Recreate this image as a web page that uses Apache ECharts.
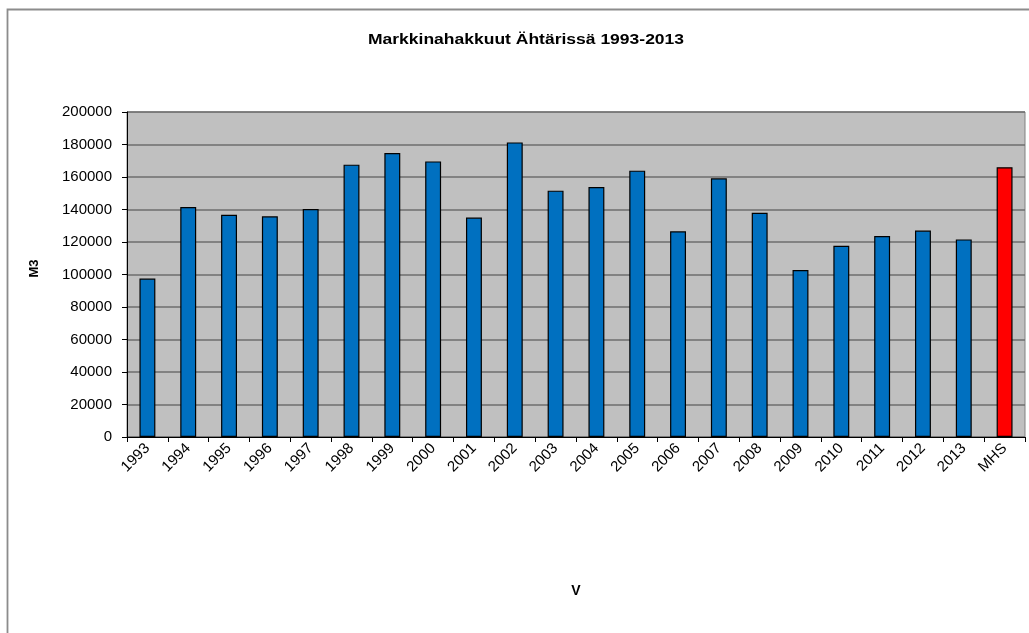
<!DOCTYPE html>
<html>
<head>
<meta charset="utf-8">
<script src="https://cdn.jsdelivr.net/npm/echarts@6/dist/echarts.min.js"></script>
<style>html,body{margin:0;padding:0;background:#fff;}#c{width:1029px;height:633px;}</style>
</head>
<body>
<div id="c"></div>
<script>
var categories = ['1993','1994','1995','1996','1997','1998','1999','2000','2001','2002','2003','2004','2005','2006','2007','2008','2009','2010','2011','2012','2013','MHS'];
var values = [97500,141500,136800,135800,140300,167600,174800,169600,135000,181300,151600,153800,163900,126600,159200,138000,102800,117700,123700,127000,121600,166000];
var highlight = 'MHS';
var titleText = 'Markkinahakkuut Ähtärissä 1993-2013';
var yTicks = {min: 0, max: 200000, interval: 20000};

var chart = echarts.init(document.getElementById('c'), null, {renderer: 'canvas'});
var font = 'Liberation Sans, Arial, sans-serif';
chart.setOption({
  animation: false,
  backgroundColor: '#ffffff',
  graphic: [{
    type: 'rect', left: 5, top: 7, silent: true, z: -10,
    shape: {width: 1040, height: 640},
    style: {fill: 'none', stroke: '#8c8c8c', lineWidth: 1.8}
  }, {
    type: 'text', x: 526, y: 40, scaleX: 1.25, silent: true,
    style: {text: titleText, font: 'bold 14px "Liberation Sans", Arial, sans-serif', fill: '#000', textAlign: 'center', textVerticalAlign: 'middle'}
  }],
  grid: {left: 127, right: 4, top: 112, bottom: 196, backgroundColor: '#c0c0c0', show: true, borderColor: '#808080', borderWidth: 1},
  xAxis: {
    type: 'category', data: categories,
    name: 'V', nameLocation: 'middle', nameGap: 147,
    nameTextStyle: {fontFamily: font, fontSize: 14, fontWeight: 'bold', color: '#000'},
    axisLine: {lineStyle: {color: '#000', width: 1}},
    axisTick: {show: true, inside: false, length: 5, lineStyle: {color: '#000'}},
    axisLabel: {rotate: 45, fontFamily: font, fontSize: 15, color: '#000', margin: 9, interval: 0},
    splitLine: {show: false}
  },
  yAxis: {
    type: 'value', min: yTicks.min, max: yTicks.max, interval: yTicks.interval,
    name: 'M3', nameLocation: 'middle', nameGap: 86, nameRotate: 90,
    nameTextStyle: {fontFamily: font, fontSize: 13, fontWeight: 'bold', color: '#000', padding: [0, 0, 0, 12]},
    axisLine: {show: true, lineStyle: {color: '#000', width: 1}},
    axisTick: {show: true, length: 5, lineStyle: {color: '#000'}},
    axisLabel: {fontFamily: font, fontSize: 15, color: '#000', margin: 15, formatter: function (v) { return String(v); }},
    splitLine: {show: true, lineStyle: {color: '#6e6e6e', width: 1.5}}
  },
  series: [{
    type: 'bar',
    barWidth: '39%',
    data: values.map(function (v, i) {
      var red = categories[i] === highlight;
      return {value: v, itemStyle: {color: red ? '#ff0000' : '#0070c0', borderColor: '#000', borderWidth: 1.2}};
    })
  }]
});
</script>
</body>
</html>
